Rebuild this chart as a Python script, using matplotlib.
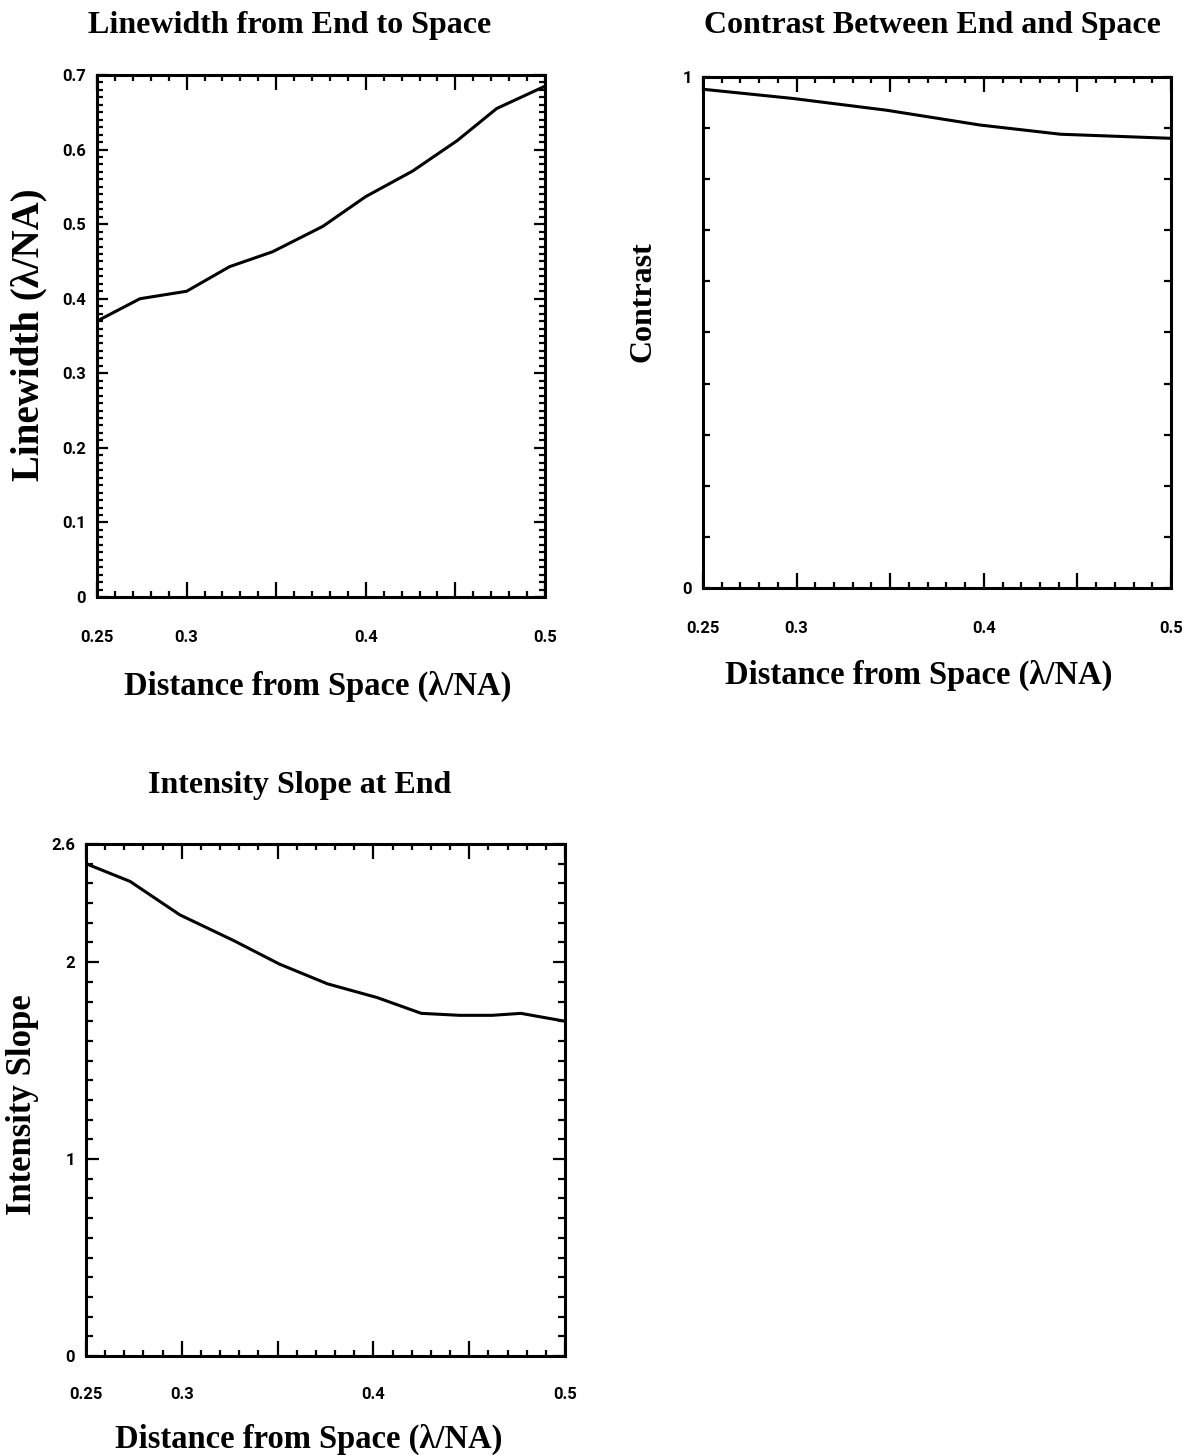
import numpy as np
import matplotlib
matplotlib.use("Agg")
import matplotlib.pyplot as plt
from matplotlib.ticker import FixedLocator, MultipleLocator

# Distance from space (lambda/NA) and the three simulated quantities
lw_x = [0.25, 0.274, 0.30, 0.324, 0.348, 0.376, 0.40, 0.426, 0.451, 0.473, 0.50]
lw_y = [0.370, 0.400, 0.410, 0.443, 0.463, 0.497, 0.537, 0.571, 0.612, 0.655, 0.685]

ct_x = [0.25, 0.298, 0.348, 0.398, 0.441, 0.50]
ct_y = [0.976, 0.958, 0.935, 0.906, 0.888, 0.880]

sl_x = [0.25, 0.273, 0.299, 0.327, 0.351, 0.376, 0.402, 0.425, 0.445, 0.462, 0.477, 0.50]
sl_y = [2.50, 2.41, 2.24, 2.11, 1.99, 1.89, 1.82, 1.74, 1.73, 1.73, 1.74, 1.70]

x_ticks = [0.25, 0.3, 0.35, 0.4, 0.45, 0.5]
x_labels = ["0.25", "0.3", "", "0.4", "", "0.5"]

W, H = 1194, 1455
fig = plt.figure(figsize=(W / 100, H / 100), dpi=100)

serif = "Liberation Serif"
tickfont = ["Roboto", "DejaVu Sans"]


def make_axes(l, t, r, b):
    return fig.add_axes([l / W, 1 - b / H, (r - l) / W, (b - t) / H])


def put(x, y, s, size, rot=0):
    fig.text(x / W, 1 - y / H, s, ha="center", va="center", rotation=rot,
             fontfamily=serif, fontweight="bold", fontsize=size)


def style(ax, ymax, ymajor, ylabels, yminor, ymajor_len, yminor_len, xpad):
    ax.set_xlim(0.25, 0.5)
    ax.set_ylim(0, ymax)
    for s in ax.spines.values():
        s.set_linewidth(2.2)
    ax.xaxis.set_major_locator(FixedLocator(x_ticks))
    ax.set_xticklabels(x_labels)
    ax.xaxis.set_minor_locator(MultipleLocator(0.01))
    ax.yaxis.set_major_locator(FixedLocator(ymajor))
    ax.set_yticklabels(ylabels)
    ax.yaxis.set_minor_locator(MultipleLocator(yminor))
    ax.tick_params(axis="x", which="major", direction="in", length=11, width=1.6,
                   top=True, bottom=True, pad=xpad)
    ax.tick_params(axis="x", which="minor", direction="in", length=4.5, width=1.6,
                   top=True, bottom=True)
    ax.tick_params(axis="y", which="major", direction="in", length=ymajor_len, width=1.6,
                   left=True, right=True, pad=8)
    ax.tick_params(axis="y", which="minor", direction="in", length=yminor_len, width=1.6,
                   left=True, right=True)
    for lab in ax.get_xticklabels() + ax.get_yticklabels():
        lab.set_fontfamily(tickfont)
        lab.set_fontweight("bold")
        lab.set_fontsize(12)


# Linewidth panel
ax1 = make_axes(97, 75, 545, 597)
ax1.plot(lw_x, lw_y, color="black", lw=2.2)
style(ax1, 0.7, [0, 0.1, 0.2, 0.3, 0.4, 0.5, 0.6, 0.7],
      ["0", "0.1", "0.2", "0.3", "0.4", "0.5", "0.6", "0.7"], 0.01, 8, 4, 24)
put(290, 25, "Linewidth from End to Space", 23)
put(318, 686, "Distance from Space (λ/NA)", 23.5)
put(29, 335, "Linewidth (λ/NA)", 28, rot=90)

# Contrast panel
ax2 = make_axes(703, 77, 1171, 588)
ax2.plot(ct_x, ct_y, color="black", lw=2.2)
style(ax2, 1.0, [0, 1], ["0", "1"], 0.1, 5, 5, 24)
put(932, 25, "Contrast Between End and Space", 23)
put(919, 675, "Distance from Space (λ/NA)", 23.5)
put(643, 302, "Contrast", 23, rot=90)

# Intensity slope panel
ax3 = make_axes(86, 844, 565, 1356)
ax3.plot(sl_x, sl_y, color="black", lw=2.2)
style(ax3, 2.6, [0, 1, 2, 2.6], ["0", "1", "2", "2.6"], 0.1, 9, 5, 22)
put(300, 785, "Intensity Slope at End", 23)
put(309, 1439, "Distance from Space (λ/NA)", 23.5)
put(23, 1105, "Intensity Slope", 25, rot=90)

fig.savefig("out.png", dpi=100, facecolor="white")
